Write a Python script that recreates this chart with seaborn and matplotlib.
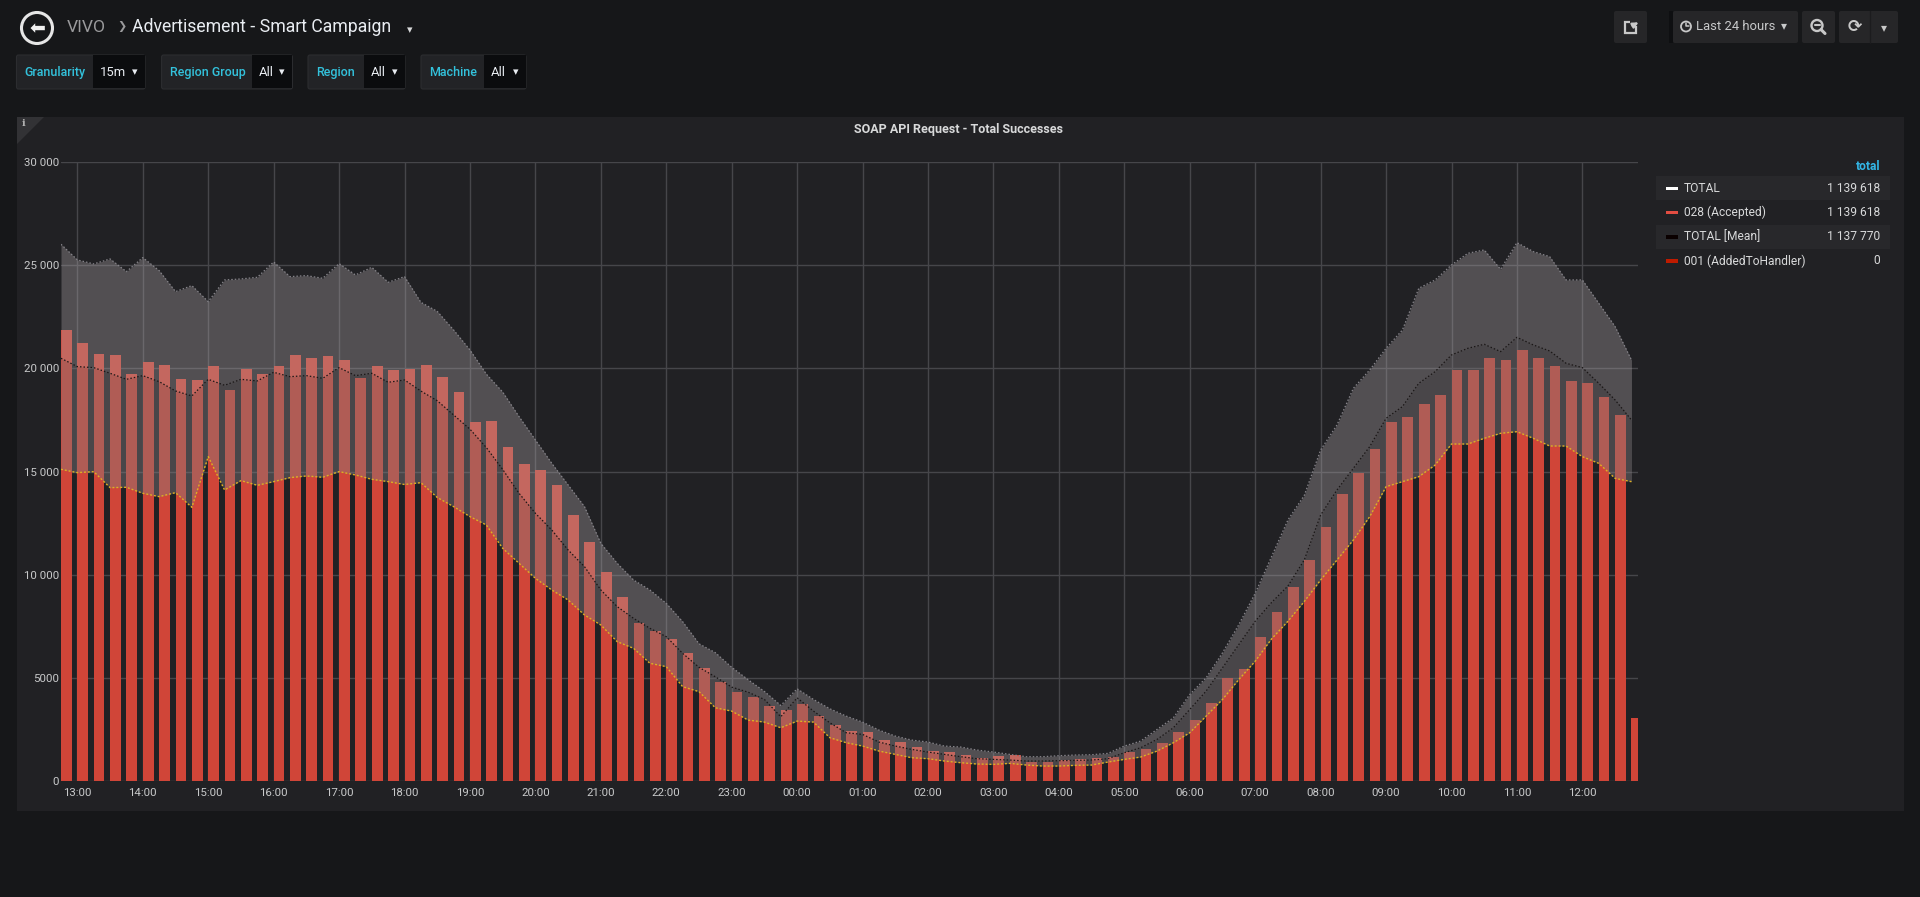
import numpy as np
import matplotlib
matplotlib.use("Agg")
import matplotlib.pyplot as plt
import seaborn as sns
from matplotlib.patches import Rectangle, Circle, Polygon, FancyBboxPatch

# ---------------- data (15-minute buckets, starting 12:45) ----------------
accepted = [21860, 21215, 20697, 20649, 19727, 20293, 20164, 19500, 19435, 20100,
            18937, 19986, 19727, 20100, 20632, 20503, 20584, 20390, 19548, 20100,
            19905, 19960, 20164, 19570, 18860, 17380, 17445, 16205, 15349, 15090,
            14331, 12877, 11600, 10146, 8934, 7674, 7270, 6898, 6188, 5460,
            4820, 4330, 4070, 3640, 3430, 3740, 3140, 2720, 2400, 2370,
            2010, 1900, 1660, 1450, 1420, 1260, 1100, 1190, 1240, 935,
            935, 1030, 1050, 1100, 1145, 1400, 1530, 1855, 2390, 2970,
            3770, 4970, 5450, 6970, 8180, 9420, 10710, 12330, 13890, 14910,
            16110, 17400, 17640, 18290, 18710, 19920, 19920, 20500, 20410, 20890,
            20490, 20130, 19400, 19280, 18630, 17740, 3050]
band_upper = [26013, 25255, 25060, 25302, 24687, 25367, 24736, 23718, 24009, 23233,
              24283, 24332, 24412, 25157, 24444, 24494, 24364, 25076, 24526, 24897,
              24170, 24444, 23200, 22760, 21860, 20890, 19720, 18850, 17659, 16528,
              15397, 14347, 13297, 11519, 10550, 9742, 9258, 8611, 7723, 6650,
              6220, 5510, 4910, 4340, 3661, 4468, 3952, 3500, 3145, 2855,
              2468, 2177, 1984, 1887, 1694, 1645, 1500, 1403, 1290, 1177,
              1177, 1226, 1258, 1274, 1339, 1694, 1935, 2500, 3065, 4194,
              5000, 6210, 7580, 9100, 10873, 12651, 13843, 16043, 17257, 19033,
              19921, 20971, 21860, 23880, 24283, 25010, 25576, 25737, 24800, 26093,
              25657, 25415, 24283, 24283, 23153, 22022, 20406]
total_mean = [20487, 20083, 20034, 19760, 19468, 19646, 19355, 18904, 18662, 19468,
              19178, 19468, 19388, 19808, 19597, 19646, 19517, 20034, 19646, 19760,
              19323, 19436, 18900, 18430, 17740, 17050, 16160, 15100, 13943, 12974,
              12166, 11197, 10389, 9258, 8450, 7884, 7400, 6995, 6188, 5510,
              5050, 4550, 4306, 3952, 3113, 4032, 3387, 2823, 2339, 2258,
              1887, 1694, 1532, 1403, 1290, 1177, 1081, 1048, 1016, 968,
              968, 984, 1000, 1016, 1081, 1371, 1613, 2016, 2581, 3468,
              4355, 5484, 6613, 7742, 8650, 9450, 10711, 12891, 14103, 15154,
              16204, 17578, 18144, 19275, 19840, 20648, 20971, 21165, 20810, 21504,
              21133, 20842, 20245, 20035, 19275, 18467, 17498]
band_lower = [15106, 14945, 14994, 14218, 14235, 13944, 13782, 13976, 13264, 15720,
              14105, 14558, 14331, 14509, 14703, 14783, 14720, 14994, 14832, 14622,
              14509, 14370, 14460, 13740, 13297, 12813, 12408, 11277, 10550, 9823,
              9258, 8773, 8046, 7561, 6753, 6430, 5704, 5542, 4573, 4330,
              3548, 3387, 2952, 2855, 2581, 2903, 2855, 2097, 1855, 1694,
              1452, 1290, 1129, 1081, 968, 887, 823, 806, 855, 774,
              726, 726, 758, 774, 919, 1048, 1161, 1452, 1855, 2339,
              3145, 3952, 4919, 5806, 6887, 7742, 8700, 9742, 10711, 11680,
              12811, 14265, 14507, 14750, 15315, 16333, 16333, 16608, 16850, 16931,
              16608, 16236, 16236, 15719, 15396, 14669, 14507]

x_tick_labels = ["13:00", "14:00", "15:00", "16:00", "17:00", "18:00", "19:00", "20:00",
                 "21:00", "22:00", "23:00", "00:00", "01:00", "02:00", "03:00", "04:00",
                 "05:00", "06:00", "07:00", "08:00", "09:00", "10:00", "11:00", "12:00"]
y_tick_values = [0, 5000, 10000, 15000, 20000, 25000, 30000]
y_tick_labels = ["0", "5000", "10 000", "15 000", "20 000", "25 000", "30 000"]

legend_names = ["TOTAL", "028 (Accepted)", "TOTAL [Mean]", "001 (AddedToHandler)"]
legend_totals = ["1 139 618", "1 139 618", "1 137 770", "0"]
legend_colors = ["#ffffff", "#e24d42", "#0a0000", "#bf1b00"]

variables = [("Granularity", "15m"), ("Region Group", "All"), ("Region", "All"), ("Machine", "All")]

# time axis in hours relative to 13:00 (bucket starts every 15 minutes from 12:45)
hours = np.arange(len(accepted)) * 0.25 - 0.25

# ---------------- style ----------------
sns.set_theme(style="dark")
plt.rcParams["font.family"] = ["Roboto", "DejaVu Sans"]

W, H = 1920, 897
PAGE = "#161719"
PANEL = "#212124"
BTN = "#262628"
TXT = "#d8d9da"
BLUE = "#33b5e5"

fig = plt.figure(figsize=(W / 100, H / 100), dpi=100)
fig.patch.set_facecolor(PAGE)

ui = fig.add_axes([0, 0, 1, 1])
ui.set_xlim(0, W)
ui.set_ylim(H, 0)
ui.axis("off")
ui.set_zorder(0)

def px(p):
    return p * 0.72

def rect(x0, y0, x1, y1, color, z=1, **kw):
    ui.add_patch(Rectangle((x0, y0), x1 - x0, y1 - y0, facecolor=color, edgecolor="none", zorder=z, **kw))

def rrect(x0, y0, x1, y1, color, z=1, ec="none"):
    ui.add_patch(FancyBboxPatch((x0, y0), x1 - x0, y1 - y0,
                                boxstyle="round,pad=0,rounding_size=2",
                                facecolor=color, edgecolor=ec, lw=0.8, zorder=z))

# panel
rect(17, 117, 1904, 811, PANEL)
ui.add_patch(Polygon([[17, 117], [44, 117], [17, 144]], closed=True, facecolor="#323235", edgecolor="none", zorder=2))
ui.text(22, 124, "i", color="#b0b0b0", fontsize=px(10), fontweight="bold", ha="left", va="center",
        family=["DejaVu Serif"], zorder=3)

# header: back button + breadcrumb
ui.add_patch(Circle((37, 28), 15.5, facecolor="none", edgecolor="#e6e6e6", lw=2.2, zorder=3))
ui.text(37, 28.5, "\u2b05", color="#f0f0f0", fontsize=px(19), ha="center", va="center",
        family=["DejaVu Sans"], zorder=4)
ui.text(67, 27, "VIVO", color="#9a9a9c", fontsize=px(17.5), ha="left", va="center")
ui.text(117, 27, "\u276f", color="#9a9a9c", fontsize=px(11), ha="left", va="center", family=["DejaVu Sans"])
ui.text(132, 27, "Advertisement - Smart Campaign", color="#e9edf2", fontsize=px(17.6), ha="left", va="center")
ui.text(407, 30, "\u25be", color="#d8d9da", fontsize=px(11), ha="left", va="center", family=["DejaVu Sans"])

# template variables
var_boxes = [(16.5, 93, 145), (161.6, 251.8, 292.4), (308, 363.8, 405), (421, 484, 526)]
for (x0, xm, x1), (lab, val) in zip(var_boxes, variables):
    rrect(x0, 55, x1, 89, "#222326", z=2, ec="#2c2d30")
    rect(xm, 55.5, x1 - 0.5, 88.5, "#0b0c0e", z=3)
    ui.text(x0 + 8, 72.5, lab, color="#33c2dc", fontsize=px(12.5), fontweight="medium",
            ha="left", va="center", zorder=4)
    ui.text(xm + 7, 72.5, val, color="#e9edf2", fontsize=px(13), ha="left", va="center", zorder=4)
    ui.text(x1 - 8, 72, "\u25be", color="#e9edf2", fontsize=px(11), ha="right", va="center",
            family=["DejaVu Sans"], zorder=4)

# top-right toolbar
rrect(1614, 11, 1647, 43, BTN, z=2)
ui.add_patch(Rectangle((1624.5, 22), 11, 11, facecolor="none", edgecolor="#c8c8c8", lw=1.6, zorder=3))
rect(1630, 18, 1640, 26, BTN, z=3.5)
ui.annotate("", xy=(1641, 21), xytext=(1630, 27),
            arrowprops=dict(arrowstyle="-|>", color="#c8c8c8", lw=1.6, mutation_scale=8), zorder=4)
rect(1669, 11, 1673, 43, "#0e0f11", z=2)
rrect(1673, 11, 1798, 43, BTN, z=2)
ui.add_patch(Circle((1686, 26.5), 5, facecolor="none", edgecolor="#c8c8c8", lw=1.3, zorder=3))
ui.plot([1686, 1686, 1689], [23.5, 26.5, 26.5], color="#c8c8c8", lw=1.1, zorder=4)
ui.text(1696, 27, "Last 24 hours", color="#c8c9ca", fontsize=px(13), ha="left", va="center", zorder=4)
ui.text(1784, 26, "\u25be", color="#c8c9ca", fontsize=px(12), ha="center", va="center",
        family=["DejaVu Sans"], zorder=4)
rrect(1802, 11, 1835, 43, BTN, z=2)
ui.add_patch(Circle((1817, 25.5), 5.5, facecolor="none", edgecolor="#c8c8c8", lw=1.7, zorder=3))
ui.plot([1814.5, 1819.5], [25.5, 25.5], color="#c8c8c8", lw=1.5, zorder=4)
ui.plot([1821, 1825], [29.5, 33.5], color="#c8c8c8", lw=2.2, zorder=4)
rrect(1839, 11, 1898, 43, BTN, z=2)
ui.plot([1870, 1870], [11, 43], color="#1c1c1e", lw=1, zorder=3)
ui.text(1855, 27, "\u27f3", color="#c8c8c8", fontsize=px(17), fontweight="bold", ha="center", va="center",
        family=["DejaVu Sans"], zorder=4)
ui.text(1884, 28, "\u25be", color="#c8c8c8", fontsize=px(12), ha="center", va="center",
        family=["DejaVu Sans"], zorder=4)

# panel title
ui.text(959, 130, "SOAP API Request - Total Successes", color=TXT, fontsize=px(12.5),
        fontweight="bold", ha="center", va="center", zorder=4)

# legend table
ui.text(1880, 166.5, "total", color=BLUE, fontsize=px(12), fontweight="bold", ha="right", va="center", zorder=4)
row_y = [188.5, 212.5, 237, 261]
for i, (name, tot, col) in enumerate(zip(legend_names, legend_totals, legend_colors)):
    y = row_y[i]
    if i % 2 == 0:
        rect(1656, y - 12, 1890, y + 12, "#28282b", z=2)
    rect(1666, y - 1.8, 1678, y + 1.8, col, z=3)
    ui.text(1684, y, name, color=TXT, fontsize=px(12), ha="left", va="center", zorder=4)
    ui.text(1880, y, tot, color=TXT, fontsize=px(12), ha="right", va="center", zorder=4)

# ---------------- chart ----------------
ax = fig.add_axes([61 / W, (H - 781) / H, (1638 - 61) / W, (781 - 162) / H])
ax.set_zorder(2)
ax.patch.set_alpha(0)

ax.bar(hours, accepted, width=0.25 * 0.655, align="edge", color="#d04538", linewidth=0, zorder=2)
ax.fill_between(hours, band_lower, band_upper, color="#aea7aa", alpha=0.35, linewidth=0, zorder=3)
ax.fill_between(hours, band_lower, total_mean, color="#000000", alpha=0.10, linewidth=0, zorder=3.1)

sns.lineplot(x=hours, y=band_upper, ax=ax, color="#86848a", linewidth=0.9,
             linestyle=(0, (1.2, 1.6)), zorder=4)
sns.lineplot(x=hours, y=total_mean, ax=ax, color="#1a1616", linewidth=0.9,
             linestyle=(0, (1.2, 1.6)), zorder=4)
sns.lineplot(x=hours, y=band_lower, ax=ax, color="#e0b020", linewidth=1.0,
             linestyle=(0, (1.4, 1.4)), zorder=4.2)

ax.set_xlim(hours[0], 23.85)
ax.set_ylim(0, 30000)
ax.set_xticks(np.arange(len(x_tick_labels)))
ax.set_xticklabels(x_tick_labels)
ax.set_yticks(y_tick_values)
ax.set_yticklabels(y_tick_labels)
ax.tick_params(axis="both", length=0, colors="#c8c9ca", labelsize=px(11.5))
ax.tick_params(axis="y", pad=1.5)
ax.tick_params(axis="x", pad=5)
for s in ax.spines.values():
    s.set_visible(False)
ax.set_axisbelow(True)
ax.grid(True, color="#46464a", linewidth=1)
ax.set_xlabel("")
ax.set_ylabel("")

fig.savefig("out.png", dpi=100, facecolor=PAGE)
